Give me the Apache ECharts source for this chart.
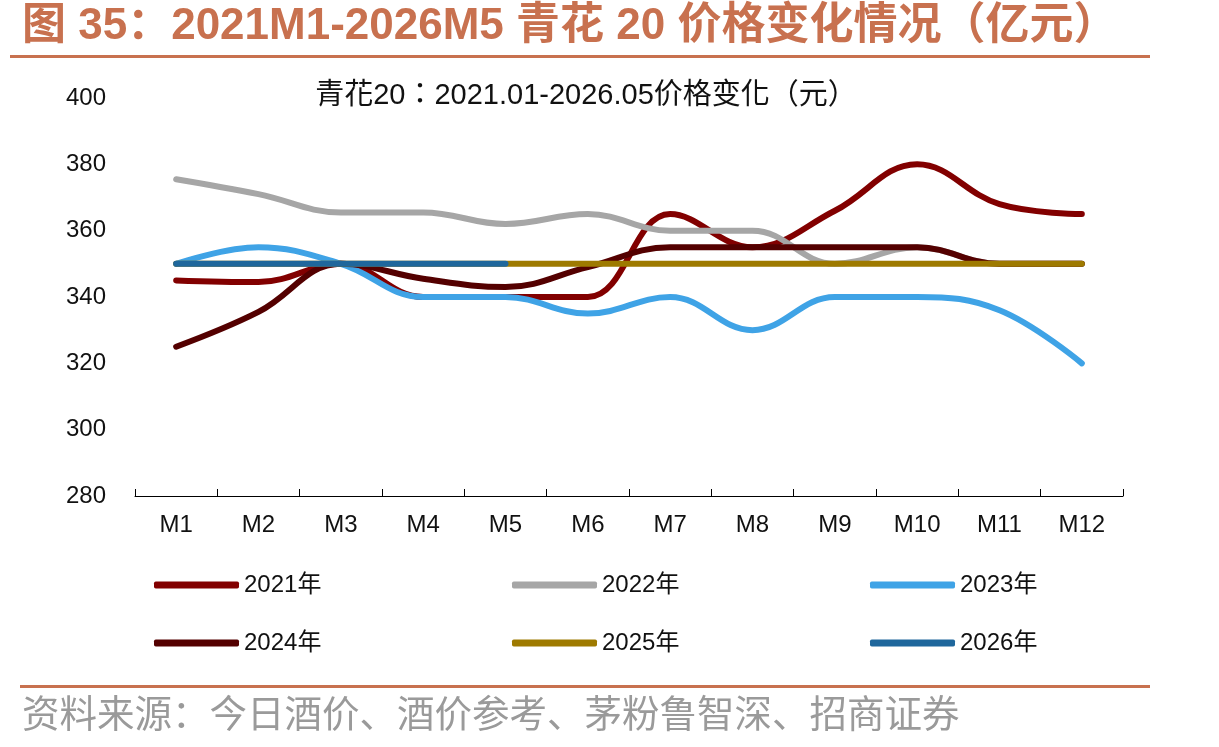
<!DOCTYPE html>
<html>
<head>
<meta charset="utf-8">
<script src="https://cdn.jsdelivr.net/npm/echarts@6/dist/echarts.min.js"></script>
<style>
  html, body { margin: 0; padding: 0; background: #fff; }
  #main { width: 1219px; height: 747px; }
</style>
</head>
<body>
<div id="main"></div>
<script>
const months = ['M1','M2','M3','M4','M5','M6','M7','M8','M9','M10','M11','M12']
const yTicks = [280, 300, 320, 340, 360, 380, 400]

const y2021 = [345, 344.5, 350, 340, 340, 340, 365, 355, 366, 380, 368, 365]
const y2022 = [375.5, 371, 365.5, 365.5, 362, 365, 360, 360, 350, 355, 350, 350]
const y2023 = [350, 355, 350, 340, 340, 335, 340, 330, 340, 340, 336, 320]
const y2024 = [325, 335.5, 350, 345.5, 343, 349, 355, 355, 355, 355, 350, 350]
const y2025 = [350, 350, 350, 350, 350, 350, 350, 350, 350, 350, 350, 350]
const y2026 = [350, 350, 350, 350, 350]

const names = ['2021年', '2022年', '2023年', '2024年', '2025年', '2026年']
const colors = ['#820000', '#a6a6a6', '#3fa3e6', '#540000', '#9e7a00', '#1f679c']
const values = [y2021, y2022, y2023, y2024, y2025, y2026]

const brand = '#c8714f'
const numFont = '"Liberation Sans", Arial, "Noto Sans CJK SC", sans-serif'

let chart = echarts.init(document.getElementById('main'))

// 图例分三列，每列两行
const legendCols = [[names[0], names[3]], [names[1], names[4]], [names[2], names[5]]]
const legendLeft = [154, 512, 870]

const option = {
  animation: false,
  title: {
    text: '青花20：2021.01-2026.05价格变化（元）',
    left: 581,
    textAlign: 'center',
    top: 76,
    textStyle: { fontSize: 29, fontWeight: 'normal', color: '#111', fontFamily: '"Liberation Sans", Arial, "Noto Sans CJK TC", sans-serif' }
  },
  graphic: [
    {
      type: 'text', left: 22, top: 5,
      style: {
        text: '图 35：2021M1-2026M5 青花 20 价格变化情况（亿元）',
        fill: brand, font: 'bold 44px "Liberation Sans", "Noto Sans CJK SC", sans-serif'
      }
    },
    { type: 'rect', shape: { x: 10, y: 55, width: 1140, height: 3 }, style: { fill: brand } },
    { type: 'rect', shape: { x: 20, y: 685, width: 1130, height: 3 }, style: { fill: brand } },
    {
      type: 'text', left: 22, top: 694,
      style: {
        text: '资料来源：今日酒价、酒价参考、茅粉鲁智深、招商证券',
        fill: '#9a9a9a', font: '37.5px "Noto Sans CJK SC", sans-serif'
      }
    }
  ],
  legend: legendCols.map((col, i) => ({
    data: col,
    orient: 'vertical',
    left: legendLeft[i],
    top: 573,
    padding: 0,
    icon: 'roundRect',
    itemWidth: 85,
    itemHeight: 7,
    itemGap: 34,
    textStyle: { fontSize: 24, color: '#111', fontFamily: numFont }
  })),
  grid: { left: 135, right: 96, top: 98, bottom: 251 },
  xAxis: {
    type: 'category',
    data: months,
    boundaryGap: true,
    axisLine: { lineStyle: { color: '#000', width: 1 } },
    axisTick: { show: true, inside: true, length: 7, lineStyle: { color: '#000' } },
    axisLabel: { fontSize: 24, color: '#111', margin: 17, fontFamily: numFont }
  },
  yAxis: {
    type: 'value',
    min: yTicks[0],
    max: yTicks[yTicks.length - 1],
    interval: 20,
    axisLine: { show: false },
    axisTick: { show: false },
    splitLine: { show: false },
    axisLabel: { fontSize: 24, color: '#111', margin: 29, fontFamily: numFont }
  },
  series: names.map((n, i) => ({
    name: n,
    type: 'line',
    data: values[i],
    smooth: 0.4,
    symbol: 'none',
    color: colors[i],
    lineStyle: { width: 6, color: colors[i], cap: 'round' }
  }))
}

chart.setOption(option)
</script>
</body>
</html>
